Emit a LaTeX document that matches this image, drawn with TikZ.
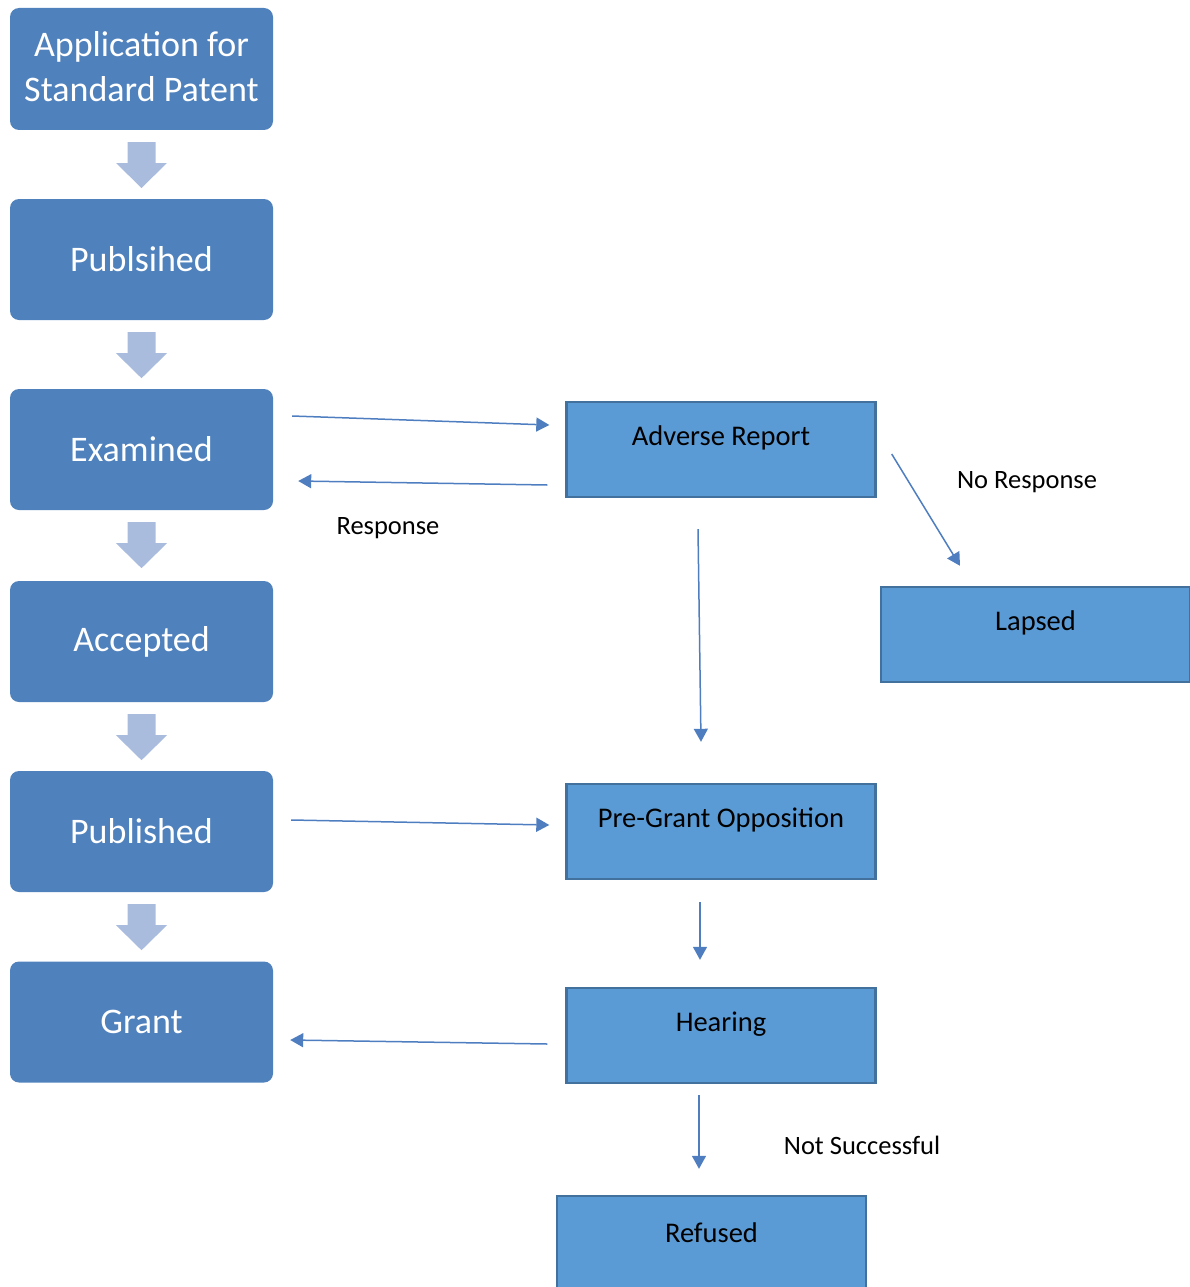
\documentclass[tikz,border=0pt]{standalone}
\usepackage{fontspec}
\setmainfont{Carlito}
\usetikzlibrary{arrows.meta}
\definecolor{lbox}{RGB}{79,129,189}
\definecolor{rfill}{RGB}{91,155,213}
\definecolor{rline}{RGB}{65,113,156}
\definecolor{conn}{RGB}{79,126,192}
\definecolor{barrowc}{RGB}{170,188,222}
\tikzset{
  lbx/.style={fill=lbox, rounded corners=9pt, minimum width=263pt, minimum height=121pt,
    text=white, align=center, inner sep=0pt, font=\fontsize{36}{45}\selectfont},
  rbx/.style={fill=rfill, draw=rline, line width=2.4pt, minimum width=309pt, minimum height=95pt, inner sep=0pt},
  rlab/.style={anchor=center, yshift=-37.5pt, text=black, font=\fontsize{28.5}{32}\selectfont, inner sep=0pt},
  flab/.style={text=black, font=\fontsize{26.5}{30}\selectfont, inner sep=0pt},
  conn/.style={draw=conn, line width=1.5pt, -{Triangle[length=13pt,width=14pt]}},
  barrow/.style={fill=barrowc}
}
\begin{document}
\begin{tikzpicture}[x=1pt,y=-1pt]
\useasboundingbox (0,0) rectangle (1190,1287);
\clip (0,0) rectangle (1190,1287);
% left column
\fill[lbox, rounded corners=9pt] (10,8) rectangle (273,130);
\node[lbx, fill=none, minimum height=0pt] (b1) at (141.5,66.5) {Application for\\Standard Patent};
\node[lbx] (b2) at (141.5,259.5) {Publsihed};
\node[lbx] (b3) at (141.5,449.5) {Examined};
\node[lbx] (b4) at (141.5,641.5) {Accepted};
\node[lbx] (b5) at (141.5,831.5) {Published};
\node[lbx] (b6) at (141.5,1022) {Grant};
\coordinate (b1s) at (141.5,130);
% block arrows
\foreach \a/\b in {b1s/b2,b2.south/b3,b3.south/b4,b4.south/b5,b5.south/b6}{
  \fill[barrow] ([yshift=-12pt]\a) ++(-14,0) -- ++(28,0) -- ++(0,21) -- ++(11.5,0)
    -- ++(-25.5,25) -- ++(-25.5,-25) -- ++(11.5,0) -- cycle;
}
% right boxes
\node[rbx, label={[rlab]north:Adverse Report}] (adv) at (721,449.5) {};
\node[rbx, label={[rlab]north:Lapsed}] (lap) at (1035.5,634.5) {};
\node[rbx, label={[rlab]north:Pre-Grant Opposition}] (pg) at (721,831.5) {};
\node[rbx, label={[rlab]north:Hearing}] (hear) at (721,1035.5) {};
\node[rbx, label={[rlab]north:Refused}] (ref) at (711.5,1243.5) {};
% labels
\node[flab] (lresp) at (388,528) {Response};
\node[flab] (lnoresp) at (1027,482) {No Response};
\node[flab] (lnots) at (862,1145) {Not Successful};
% connectors
\draw[conn] ([xshift=19pt,yshift=33.5pt]b3.east) -- ([xshift=-16pt,yshift=24.5pt]adv.west);
\draw[conn] ([xshift=-18pt,yshift=-35.5pt]adv.west) -- ([xshift=25pt,yshift=-31.5pt]b3.east);
\draw[conn] ([xshift=15pt,yshift=-4.5pt]adv.east) -- ([xshift=-75.5pt,yshift=20pt]lap.north);
\draw[conn] ([xshift=-23pt,yshift=-31pt]adv.south) -- ([xshift=-20pt,yshift=41pt]pg.north);
\draw[conn] ([xshift=18pt,yshift=11.5pt]b5.east) -- ([xshift=-16pt,yshift=6.5pt]pg.west);
\draw[conn] ([xshift=-21pt,yshift=-22pt]pg.south) -- ([xshift=-21pt,yshift=27pt]hear.north);
\draw[conn] ([xshift=-18pt,yshift=-8.5pt]hear.west) -- ([xshift=17pt,yshift=-18pt]b6.east);
\draw[conn] ([xshift=-22pt,yshift=-11pt]hear.south) -- ([xshift=-12.5pt,yshift=26pt]ref.north);
\end{tikzpicture}
\end{document}
